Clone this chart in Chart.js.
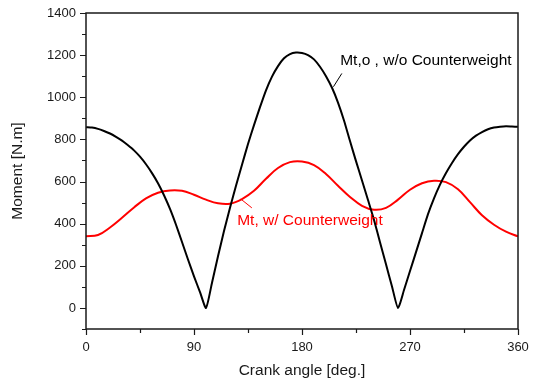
<!DOCTYPE html>
<html>
<head>
<meta charset="utf-8">
<script src="https://cdn.jsdelivr.net/npm/chart.js@4"></script>
<style>
  html, body { margin: 0; padding: 0; background: #fff; }
  #wrap { width: 536px; height: 383px; }
</style>
</head>
<body>
<div id="wrap"><canvas id="momentChart" width="536" height="383"></canvas></div>
<script>
// crank angle [deg.] and moment [N.m]
const angleNoCw = [0, 5, 10, 15, 20, 25, 30, 35, 40, 45, 50, 55, 60, 65, 70, 75, 80, 85, 90, 95,
    100, 105, 110, 115, 120, 125, 130, 135, 140, 145, 150, 155, 160, 165, 170, 175, 180, 185, 190, 195,
    200, 205, 210, 215, 220, 225, 230, 235, 240, 245, 250, 255, 260, 265, 270, 275, 280, 285, 290, 295,
    300, 305, 310, 315, 320, 325, 330, 335, 340, 345, 350, 355, 360];
const momentNoCw = [858, 856, 850, 840, 828, 812, 794, 772, 748, 718, 682, 640, 592, 535, 470, 395, 313, 230, 150, 75,
    0, 120, 245, 365, 475, 580, 680, 778, 868, 953, 1033, 1098, 1148, 1185, 1205, 1212, 1210, 1200, 1180, 1145,
    1100, 1045, 975, 890, 792, 697, 605, 512, 418, 312, 207, 102, 0, 85, 175, 265, 355, 445, 520, 585,
    640, 688, 730, 765, 795, 818, 835, 848, 856, 860, 862, 861, 860];

const angleCw = [0, 10, 20, 30, 40, 50, 60, 70, 80, 90, 100, 110, 120, 130, 140, 150, 160, 170, 180,
    190, 200, 210, 220, 230, 240, 250, 260, 270, 280, 290, 300, 310, 320, 330, 340, 350, 360];
const momentCw = [340, 346, 382, 428, 477, 520, 547, 558, 556, 537, 514, 497, 495, 517, 556, 613, 664, 692, 695,
    678, 636, 580, 527, 485, 466, 475, 514, 561, 592, 604, 597, 563, 502, 440, 395, 362, 340];

const labelNoCw = 'Mt,o , w/o Counterweight';
const labelCw = 'Mt, w/ Counterweight';

function toPoints(xs, ys) {
    return xs.map(function(x, i) { return {x: x, y: ys[i]}; });
}

const FONT = "'Liberation Sans', Arial, sans-serif";
const INK = '#1a1a1a';

// box around the plot and outward tick marks
const framePlugin = {
    id: 'frame',
    afterDraw(chart) {
        const ctx = chart.ctx;
        const a = chart.chartArea;
        const xs = chart.scales.x, ys = chart.scales.y;
        ctx.save();
        ctx.strokeStyle = INK;
        ctx.lineWidth = 1.5;
        ctx.strokeRect(a.left, a.top, a.right - a.left, a.bottom - a.top);
        ctx.lineWidth = 1.2;
        ctx.beginPath();
        ys.ticks.forEach(function(t) {
            const y = Math.round(ys.getPixelForValue(t.value)) + 0.5;
            const len = (t.value % 200 === 0) ? 6 : 4;
            ctx.moveTo(a.left, y);
            ctx.lineTo(a.left - len, y);
        });
        xs.ticks.forEach(function(t) {
            const x = Math.round(xs.getPixelForValue(t.value)) + 0.5;
            const len = (t.value % 90 === 0) ? 6 : 4;
            ctx.moveTo(x, a.bottom);
            ctx.lineTo(x, a.bottom + len);
        });
        ctx.stroke();
        ctx.restore();
    }
};

// curve labels with short leader lines
const notePlugin = {
    id: 'notes',
    afterDatasetsDraw(chart) {
        const ctx = chart.ctx;
        const xs = chart.scales.x, ys = chart.scales.y;
        const px = function(v) { return xs.getPixelForValue(v); };
        const py = function(v) { return ys.getPixelForValue(v); };
        ctx.save();
        ctx.font = "15.5px " + FONT;
        ctx.textBaseline = 'middle';
        ctx.textAlign = 'left';

        ctx.fillStyle = '#000';
        ctx.fillText(labelNoCw, px(211.8), py(1172));
        ctx.strokeStyle = '#000';
        ctx.lineWidth = 1;
        ctx.beginPath();
        ctx.moveTo(px(213.2), py(1113));
        ctx.lineTo(px(206.2), py(1050));
        ctx.stroke();

        ctx.fillStyle = '#ff0000';
        ctx.fillText(labelCw, px(126), py(416));
        ctx.strokeStyle = '#ff0000';
        ctx.beginPath();
        ctx.moveTo(px(138.2), py(475));
        ctx.lineTo(px(129), py(517));
        ctx.stroke();
        ctx.restore();
    }
};

new Chart(document.getElementById('momentChart').getContext('2d'), {
    type: 'line',
    data: {
        datasets: [{
            label: labelNoCw,
            data: toPoints(angleNoCw, momentNoCw),
            borderColor: '#000000',
            borderWidth: 2,
            pointRadius: 0,
            tension: 0.2,
            fill: false
        }, {
            label: labelCw,
            data: toPoints(angleCw, momentCw),
            borderColor: '#ff0000',
            borderWidth: 2,
            pointRadius: 0,
            tension: 0.4,
            fill: false
        }]
    },
    options: {
        responsive: false,
        animation: false,
        layout: { padding: { left: 0, top: 13, right: 18, bottom: 0 } },
        plugins: {
            legend: { display: false },
            tooltip: { enabled: false }
        },
        scales: {
            x: {
                type: 'linear',
                min: 0,
                max: 360,
                grid: { display: false, drawTicks: false },
                border: { display: false },
                ticks: {
                    stepSize: 45,
                    color: INK,
                    padding: 11,
                    maxRotation: 0,
                    autoSkip: false,
                    font: { family: FONT, size: 13 },
                    callback: function(v) { return v % 90 === 0 ? String(v) : ''; }
                },
                title: {
                    display: true,
                    text: 'Crank angle [deg.]',
                    color: INK,
                    font: { family: FONT, size: 15.5 },
                    padding: { top: 0, bottom: 3 }
                },
                afterFit: function(scale) {
                    scale.height = 54;
                    scale.paddingLeft = 0;
                    scale.paddingRight = 0;
                }
            },
            y: {
                min: -100,
                max: 1400,
                grid: { display: false, drawTicks: false },
                border: { display: false },
                ticks: {
                    stepSize: 100,
                    color: INK,
                    padding: 10,
                    autoSkip: false,
                    font: { family: FONT, size: 13 },
                    callback: function(v) { return (v % 200 === 0 && v >= 0) ? String(v) : ''; }
                },
                title: {
                    display: true,
                    text: 'Moment [N.m]',
                    color: INK,
                    font: { family: FONT, size: 15.5 },
                    padding: { top: 8, bottom: 0 }
                },
                afterFit: function(scale) {
                    scale.width = 86;
                    scale.paddingTop = 0;
                    scale.paddingBottom = 0;
                }
            }
        }
    },
    plugins: [framePlugin, notePlugin]
});
</script>
</body>
</html>
